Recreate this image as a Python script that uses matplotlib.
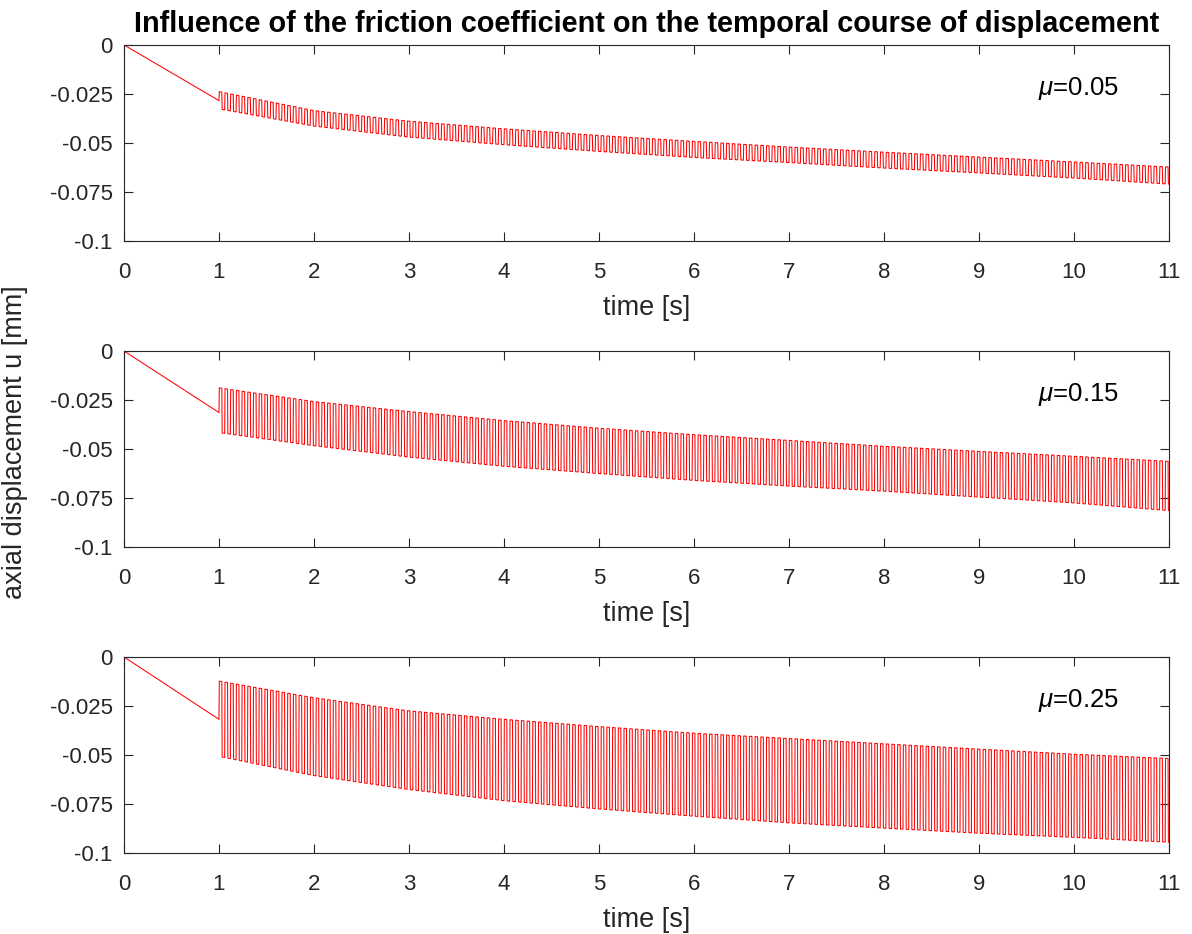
import numpy as np
import matplotlib
matplotlib.use("Agg")
from matplotlib import pyplot as plt

plt.rcParams['font.family'] = ['Liberation Sans', 'DejaVu Sans']
plt.rcParams['mathtext.fontset'] = 'custom'
plt.rcParams['mathtext.it'] = 'Liberation Sans:italic'

# values
mu_labels = ['0.05', '0.15', '0.25']
env_t = [1, 2, 3, 4, 5, 6, 7, 8, 9, 10, 11]
ramp_end = [-0.0284, -0.0314, -0.0318]
upper = [
    [-0.0238, -0.0335, -0.0389, -0.0428, -0.0462, -0.0492, -0.0521, -0.0547, -0.0572, -0.0597, -0.0623],
    [-0.0188, -0.0258, -0.0309, -0.0355, -0.0394, -0.0427, -0.0456, -0.0486, -0.0512, -0.0537, -0.0563],
    [-0.0123, -0.0208, -0.0275, -0.0318, -0.0355, -0.0389, -0.0416, -0.0443, -0.0470, -0.0496, -0.0518],
]
lower = [
    [-0.0326, -0.0414, -0.0470, -0.0509, -0.0543, -0.0574, -0.0600, -0.0628, -0.0653, -0.0679, -0.0710],
    [-0.0416, -0.0483, -0.0541, -0.0588, -0.0625, -0.0660, -0.0689, -0.0715, -0.0745, -0.0775, -0.0814],
    [-0.0507, -0.0605, -0.0676, -0.0733, -0.0775, -0.0812, -0.0846, -0.0873, -0.0899, -0.0920, -0.0945],
]
period = 0.06  # oscillation period [s]
xticks = list(range(0, 12))
yticks = [0, -0.025, -0.05, -0.075, -0.1]
ytick_labels = ['0', '-0.025', '-0.05', '-0.075', '-0.1']


def build_signal(k):
    # ramp from 0 to t=1, then a square-like oscillation between envelopes
    t = [0.0, 1.0]
    u = [0.0, ramp_end[k]]
    half = period / 2
    edge = period * 0.06
    tc = 1.0
    hi = True
    while tc < 11.0:
        t_end = min(tc + half, 11.0)
        env = upper[k] if hi else lower[k]
        a = np.interp(tc + edge, env_t, env)
        b = np.interp(t_end, env_t, env)
        t += [tc + edge, t_end]
        u += [a, b]
        tc = t_end
        hi = not hi
    return np.array(t), np.array(u)


fig = plt.figure(figsize=(11.92, 9.34), dpi=100)
bottoms = [0.742, 0.4143, 0.0867]
gray = '#262626'

for k in range(3):
    ax = fig.add_axes([0.104, bottoms[k], 0.8767, 0.2099])
    t, u = build_signal(k)
    ax.plot(t, u, color='red', lw=0.75)
    ax.set_xlim(0, 11)
    ax.set_ylim(-0.1, 0)
    ax.set_xticks(xticks)
    ax.set_yticks(yticks)
    ax.set_yticklabels(ytick_labels)
    ax.tick_params(direction='in', length=6.5, width=0.8, top=True, right=True,
                   labelsize=16, colors=gray)
    ax.tick_params(axis='x', pad=15)
    ax.tick_params(axis='y', pad=8)
    for s in ax.spines.values():
        s.set_color(gray)
        s.set_linewidth(0.8)
    ax.set_xlabel('time [s]', fontsize=19.5, color=gray, labelpad=9)
    ax.text(10.05, -0.022, r'$\mu$=' + mu_labels[k], fontsize=18.5,
            ha='center', va='center', color='black')
    if k == 0:
        ax.set_title('Influence of the friction coefficient on the temporal course of displacement',
                     fontsize=20.8, fontweight='bold', pad=9)

fig.text(0.0126, 0.527, 'axial displacement u [mm]', rotation=90, fontsize=19.5,
         color=gray, ha='center', va='center')

fig.savefig('out.png', dpi=100)
